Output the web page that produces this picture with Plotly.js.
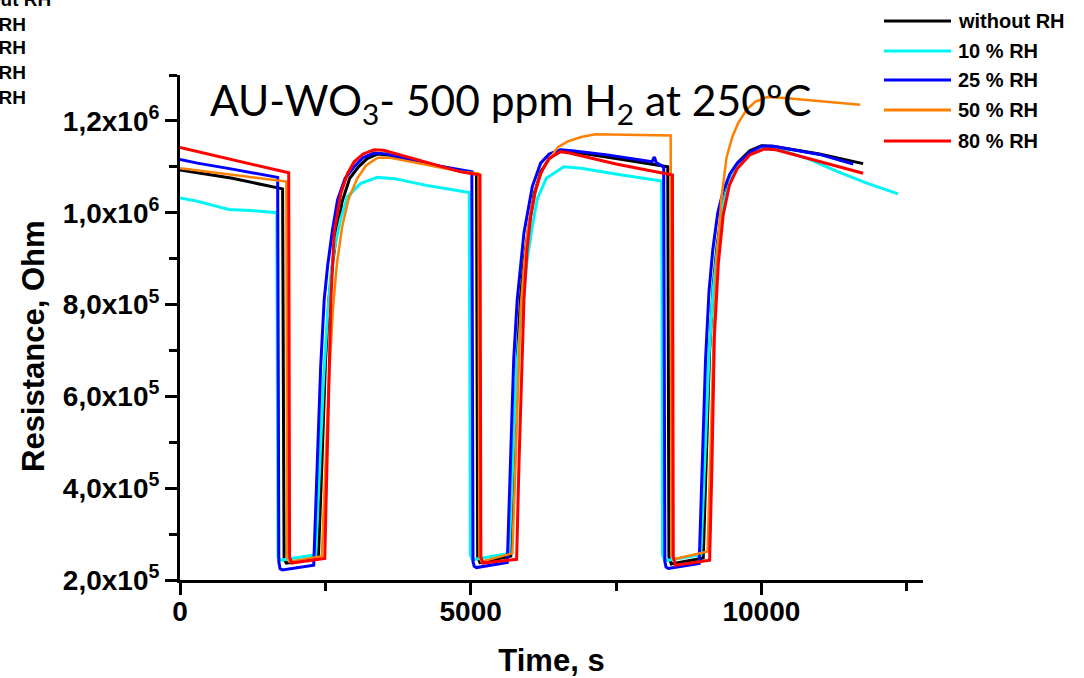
<!DOCTYPE html>
<html><head><meta charset="utf-8">
<script src="https://cdn.plot.ly/plotly-3.0.1.min.js"></script>
<style>html,body{margin:0;padding:0;background:#fff}#chart{width:1084px;height:678px}</style>
</head><body><div id="chart"></div>
<script>
const seriesNames = ["without RH", "10 % RH", "25 % RH", "50 % RH", "80 % RH"];
const seriesColors = ["#000000", "#00f5f5", "#0000ff", "#ff8000", "#ff0000"];

const timeNoRH = [0,900,1765,1790,1830,2380,2440,2500,2560,2620,2700,2790,2920,3070,3220,3400,3600,4300,5100,5120,5160,5690,5745,5800,5860,5920,6000,6090,6210,6350,6550,6750,7500,8390,8410,8450,9000,9050,9110,9170,9240,9330,9450,9600,9800,10000,10200,11000,11750];
const resNoRH = [1.093e6,1.075e6,1.052e6,2.45e5,2.37e5,2.48e5,4.5e5,6.7e5,8.1e5,8.85e5,9.6e5,1.025e6,1.075e6,1.1e6,1.118e6,1.128e6,1.125e6,1.105e6,1.085e6,2.5e5,2.38e5,2.52e5,4.6e5,6.8e5,8.2e5,9.0e5,9.7e5,1.04e6,1.09e6,1.118e6,1.135e6,1.133e6,1.118e6,1.1e6,2.5e5,2.35e5,2.48e5,4.8e5,7.0e5,8.4e5,9.3e5,1.01e6,1.07e6,1.11e6,1.135e6,1.146e6,1.145e6,1.128e6,1.107e6];

const timeRH10 = [0,300,600,845,1200,1665,1685,1720,2335,2400,2470,2540,2600,2651,2760,2881,3110,3397,3700,4300,4828,4975,4995,5030,5660,5720,5790,5859,5974,6060,6146,6300,6603,6900,7600,8285,8300,8340,8960,9030,9100,9170,9250,9350,9470,9600,9800,10000,10300,10800,11300,11800,12350];
const resRH10 = [1.032e6,1.025e6,1.015e6,1.007e6,1.005e6,1.0e6,2.5e5,2.43e5,2.55e5,4.3e5,6.4e5,7.8e5,8.7e5,9.19e5,9.85e5,1.035e6,1.064e6,1.077e6,1.074e6,1.058e6,1.046e6,1.044e6,2.55e5,2.44e5,2.58e5,4.5e5,6.6e5,7.6e5,9.0e5,9.7e5,1.03e6,1.075e6,1.1e6,1.097e6,1.082e6,1.069e6,2.55e5,2.42e5,2.55e5,4.7e5,6.9e5,8.3e5,9.3e5,1.02e6,1.075e6,1.108e6,1.13e6,1.14e6,1.138e6,1.118e6,1.09e6,1.065e6,1.041e6];

const timeRH25 = [0,300,900,1680,1700,1720,1760,2300,2360,2420,2480,2540,2620,2710,2840,2995,3150,3340,3550,4300,5020,5040,5060,5100,5630,5680,5740,5800,5860,5916,6060,6203,6350,6546,6750,7350,8120,8140,8155,8170,8190,8320,8340,8360,8400,8930,8980,9040,9100,9165,9250,9343,9460,9580,9816,10000,10200,11000,11580];
const resRH25 = [1.116e6,1.108e6,1.095e6,1.077e6,2.4e5,2.25e5,2.22e5,2.32e5,4.5e5,6.65e5,8.1e5,8.85e5,9.6e5,1.028e6,1.075e6,1.1e6,1.12e6,1.13e6,1.128e6,1.105e6,1.089e6,2.4e5,2.3e5,2.27e5,2.38e5,4.6e5,6.8e5,8.1e5,8.9e5,9.56e5,1.057e6,1.108e6,1.128e6,1.137e6,1.135e6,1.126e6,1.111e6,1.118e6,1.121e6,1.118e6,1.109e6,1.1e6,2.4e5,2.28e5,2.25e5,2.36e5,4.6e5,6.8e5,8.3e5,9.2e5,1.0e6,1.047e6,1.085e6,1.107e6,1.133e6,1.145e6,1.145e6,1.127e6,1.106e6];

const timeRH50 = [0,900,1830,1845,1880,2440,2500,2560,2630,2700,2790,2900,3050,3200,3400,3600,4300,4828,5135,5150,5185,5716,5770,5820,5859,5920,5974,6060,6146,6260,6375,6500,6661,6900,7148,7600,8440,8455,8490,9075,9130,9180,9225,9313,9400,9500,9600,9750,9900,10100,10400,11100,11700];
const resRH50 = [1.097e6,1.083e6,1.068e6,2.5e5,2.4e5,2.52e5,4.3e5,6.3e5,7.9e5,8.9e5,9.7e5,1.03e6,1.075e6,1.103e6,1.12e6,1.12e6,1.103e6,1.09e6,1.085e6,2.5e5,2.4e5,2.58e5,4.5e5,6.6e5,7.9e5,8.9e5,9.56e5,1.02e6,1.064e6,1.1e6,1.122e6,1.143e6,1.155e6,1.165e6,1.171e6,1.17e6,1.168e6,2.55e5,2.45e5,2.62e5,5.2e5,7.3e5,8.82e5,1.032e6,1.12e6,1.165e6,1.195e6,1.225e6,1.242e6,1.252e6,1.25e6,1.242e6,1.235e6];

const timeRH80 = [0,900,1870,1885,1920,2490,2537,2595,2652,2766,2880,2995,3150,3339,3500,4300,4828,5160,5175,5210,5790,5830,5859,5916,5970,6031,6110,6203,6350,6546,6700,7500,8470,8485,8520,9110,9150,9192,9260,9343,9450,9580,9800,10050,10250,11000,11750];
const resRH80 = [1.142e6,1.115e6,1.087e6,2.5e5,2.37e5,2.47e5,5.2e5,8.1e5,9.56e5,1.042e6,1.085e6,1.111e6,1.128e6,1.137e6,1.136e6,1.108e6,1.089e6,1.082e6,2.5e5,2.37e5,2.45e5,4.5e5,5.92e5,8.1e5,9.2e5,9.91e5,1.045e6,1.086e6,1.118e6,1.133e6,1.13e6,1.106e6,1.082e6,2.5e5,2.32e5,2.43e5,4.5e5,7.31e5,8.9e5,9.95e5,1.06e6,1.095e6,1.126e6,1.139e6,1.137e6,1.112e6,1.086e6];

const xTickVals = [0, 5000, 10000];
const xTickText = ["0", "5000", "10000"];
const xMinorVals = [2500, 7500, 12500];
const yTickVals = [2e5, 4e5, 6e5, 8e5, 1.0e6, 1.2e6];
const yTickText = ["2,0x10<sup>5</sup>", "4,0x10<sup>5</sup>", "6,0x10<sup>5</sup>", "8,0x10<sup>5</sup>", "1,0x10<sup>6</sup>", "1,2x10<sup>6</sup>"];
const yMinorVals = [3e5, 5e5, 7e5, 9e5, 1.1e6, 1.3e6];

const titleText = "AU-WO<sub>3</sub>- 500 ppm H<sub>2</sub> at 250ºC";
const xTitle = "Time, s";
const yTitle = "Resistance, Ohm";

const times = [timeNoRH, timeRH10, timeRH25, timeRH50, timeRH80];
const values = [resNoRH, resRH10, resRH25, resRH50, resRH80];
const widths = [3, 3, 3, 2.5, 3];

const traces = seriesNames.map((n, i) => ({
  type: 'scatter', mode: 'lines', name: n, x: times[i], y: values[i],
  line: {color: seriesColors[i], width: widths[i]}, showlegend: false
}));

// plot area in pixels: x 180..923, y 75..580
const L = 180, R = 923, T = 75, B = 580;
const px = v => (v - L) / (R - L);
const py = v => (B - v) / (B - T);

const boldFam = 'Liberation Sans, Arial, sans-serif';
const shapes = [];
const annotations = [];
const legRows = [21, 51, 80, 110, 141];
seriesNames.forEach((n, i) => {
  shapes.push({type: 'line', xref: 'paper', yref: 'paper', x0: px(884), x1: px(951), y0: py(legRows[i]), y1: py(legRows[i]),
    line: {color: seriesColors[i], width: 3}});
  annotations.push({xref: 'paper', yref: 'paper', x: px(956), y: py(legRows[i]), xanchor: 'left', yanchor: 'middle',
    text: n, showarrow: false, font: {family: boldFam, size: 20, weight: 'bold', color: '#000'}});
});
// partially visible duplicate legend text at the top-left corner
const legRows2 = [-1, 25, 48, 72, 97];
seriesNames.forEach((n, i) => {
  annotations.push({xref: 'paper', yref: 'paper', x: px(-52), y: py(legRows2[i]), xanchor: 'left', yanchor: 'middle',
    text: n, showarrow: false, font: {family: boldFam, size: 19, weight: 'bold', color: '#000'}});
});
annotations.push({xref: 'paper', yref: 'paper', x: px(208), y: py(133), xanchor: 'left', yanchor: 'bottom',
  text: titleText, showarrow: false, font: {family: 'Lato, Open Sans, sans-serif', size: 42.5, color: '#000'}});
annotations.push({xref: 'paper', yref: 'paper', x: px(33), y: py(346), xanchor: 'center', yanchor: 'middle', textangle: -90,
  text: yTitle, showarrow: false, font: {family: boldFam, size: 31, weight: 'bold', color: '#000'}});

const tickFont = {family: boldFam, size: 28, weight: 'bold', color: '#000'};
const titleFont = {family: boldFam, size: 31, weight: 'bold', color: '#000'};

const layout = {
  width: 1084, height: 678,
  margin: {l: L, r: 1084 - R, t: T, b: 678 - B},
  paper_bgcolor: '#fff', plot_bgcolor: '#fff',
  showlegend: false,
  xaxis: {
    range: [0, 12780], showgrid: false, zeroline: false,
    showline: true, linecolor: '#000', linewidth: 3,
    ticks: 'outside', ticklen: 12, tickwidth: 3, tickcolor: '#000',
    ticklabelstandoff: -8,
    tickmode: 'array', tickvals: xTickVals, ticktext: xTickText, tickfont: tickFont,
    minor: {tickmode: 'array', tickvals: xMinorVals, ticks: 'outside', ticklen: 8, tickwidth: 3, tickcolor: '#000', showgrid: false},
    title: {text: xTitle, font: titleFont, standoff: 24}
  },
  yaxis: {
    range: [2e5, 1.3e6], showgrid: false, zeroline: false,
    showline: true, linecolor: '#000', linewidth: 3,
    ticks: 'outside', ticklen: 12, tickwidth: 3, tickcolor: '#000',
    tickmode: 'array', tickvals: yTickVals, ticktext: yTickText, tickfont: tickFont,
    minor: {tickmode: 'array', tickvals: yMinorVals, ticks: 'outside', ticklen: 8, tickwidth: 3, tickcolor: '#000', showgrid: false}
  },
  shapes: shapes,
  annotations: annotations
};

Plotly.newPlot('chart', traces, layout, {displayModeBar: false, staticPlot: true});
</script>
</body></html>
